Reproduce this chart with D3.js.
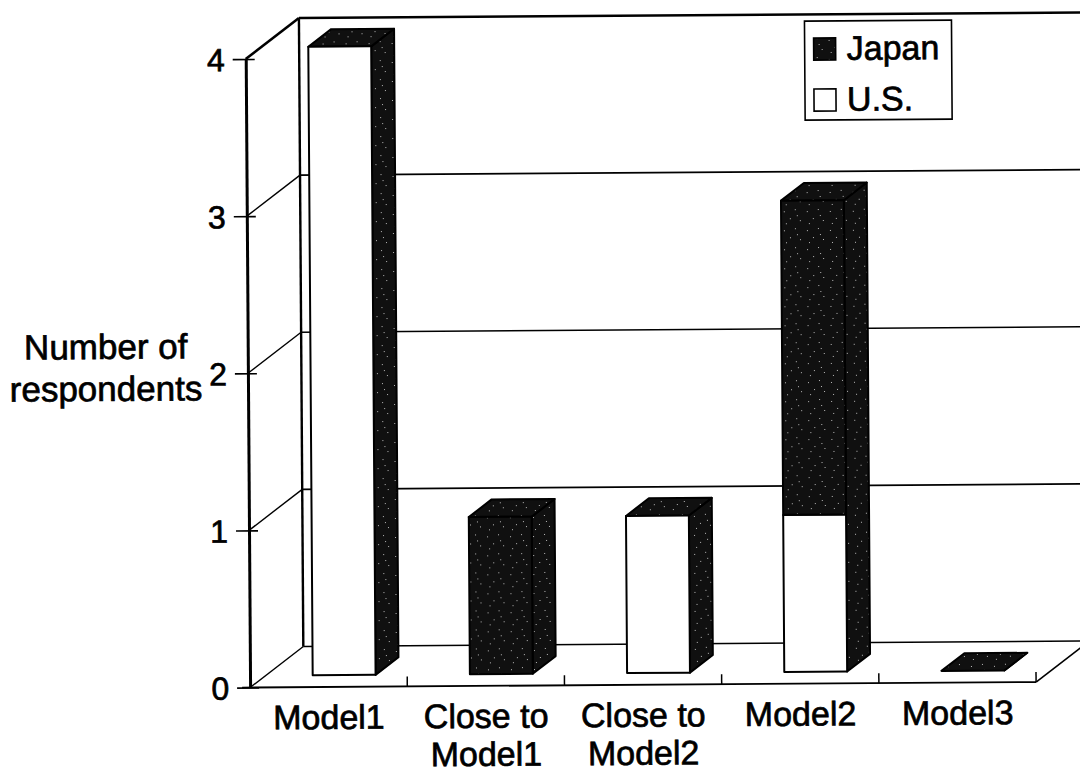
<!DOCTYPE html>
<html>
<head>
<meta charset="utf-8">
<script src="https://cdn.jsdelivr.net/npm/d3@7"></script>
<style>
  html, body { margin: 0; padding: 0; background: #fff; }
  svg { display: block; font-family: "Liberation Sans", Arial, Helvetica, sans-serif; }
  text { stroke: #000; stroke-width: 0.7px; fill: #000; }
</style>
</head>
<body>
<svg id="chart" width="1080" height="773"></svg>
<script>
// ---- data ----
const categories = ["Model1", "Close to Model1", "Close to Model2", "Model2", "Model3"];
const categoryLines = [["Model1"], ["Close to", "Model1"], ["Close to", "Model2"], ["Model2"], ["Model3"]];
const seriesNames = ["Japan", "U.S."];
const usValues = [4, 0, 1, 1, 0];
const japanValues = [0, 1, 0, 2, 0];
const yTickValues = [0, 1, 2, 3, 4];
const yAxisTitle = ["Number of", "respondents"];

// ---- layout ----
const svg = d3.select("#chart");
const DARK = "#101010";
const defs = svg.append("defs");
const pat = defs.append("pattern").attr("id", "speckle").attr("patternUnits", "userSpaceOnUse")
  .attr("width", 23).attr("height", 19);
pat.append("rect").attr("width", 23).attr("height", 19).attr("fill", DARK);
[[3, 4], [14, 2], [9, 11], [19, 13], [5, 16], [16, 8]].forEach(p =>
  pat.append("rect").attr("x", p[0]).attr("y", p[1]).attr("width", 1).attr("height", 1).attr("fill", "#bbb"));

const root = svg.append("g").attr("transform", "rotate(-0.4 540 386)");

const x = d3.scaleBand().domain(categories).range([248, 1034]).paddingInner(0).paddingOuter(0);
const y = d3.scaleLinear().domain([0, 4]).range([685.5, 57]);
const DX = 53.5, DY = -40.7;               // full depth offset of the floor / walls
const depth = f => [f * DX, f * DY];
const barFront = 0.29, barBack = 0.72;      // bar depth position (fraction of full depth)
const barInset = 0.3, barWidthFrac = 0.4;   // bar position inside band

const x0 = x.range()[0], x1 = x.range()[1];
const [bdx, bdy] = depth(1);

// ---- walls & gridlines ----
const walls = root.append("g").attr("fill", "none").attr("stroke", "#000");
yTickValues.forEach(v => {
  walls.append("line")
    .attr("x1", x0 + bdx).attr("y1", y(v) + bdy)
    .attr("x2", x1 + bdx).attr("y2", y(v) + bdy)
    .attr("stroke-width", v === 4 ? 2.6 : 1.6);
  walls.append("line")
    .attr("x1", x0).attr("y1", y(v))
    .attr("x2", x0 + bdx).attr("y2", y(v) + bdy)
    .attr("stroke-width", v === 4 ? 2.6 : 1.4);
});
walls.append("line").attr("x1", x0 + bdx).attr("y1", y(0) + bdy).attr("x2", x0 + bdx).attr("y2", y(4) + bdy)
  .attr("stroke-width", 2.4);
walls.append("line").attr("x1", x1).attr("y1", y(0)).attr("x2", x1 + bdx).attr("y2", y(0) + bdy).attr("stroke-width", 1.6);
walls.append("line").attr("x1", x1 + bdx).attr("y1", y(0) + bdy).attr("x2", x1 + bdx).attr("y2", y(4) + bdy).attr("stroke-width", 2);
walls.append("line").attr("x1", x0 - 8).attr("y1", y(0)).attr("x2", x1).attr("y2", y(0)).attr("stroke-width", 1.8);
categories.forEach(c => {
  const xb = x(c) + x.bandwidth();
  walls.append("line").attr("x1", xb).attr("y1", y(0)).attr("x2", xb).attr("y2", y(0) - 10).attr("stroke-width", 1.5);
});

// ---- bars ----
const table = categories.map((c, i) => ({ cat: c, us: usValues[i], japan: japanValues[i] }));
const stacked = d3.stack().keys(["us", "japan"])(table);
const fill = { us: "#fff", japan: "url(#speckle)" };
const bars = root.append("g");
const [fdx, fdy] = depth(barFront);
const [kdx, kdy] = depth(barBack);

table.forEach((d, i) => {
  const xl = x(d.cat) + x.bandwidth() * barInset;
  const xr = xl + x.bandwidth() * barWidthFrac;
  const total = d.us + d.japan;
  const g = bars.append("g").attr("stroke", "#000").attr("stroke-width", 2).attr("stroke-linejoin", "round");
  g.append("polygon").attr("fill", "url(#speckle)").attr("points", [
    [xr + fdx, y(total) + fdy], [xr + kdx, y(total) + kdy],
    [xr + kdx, y(0) + kdy], [xr + fdx, y(0) + fdy]].join(" "));
  g.append("polygon").attr("fill", "url(#speckle)").attr("points", [
    [xl + fdx, y(total) + fdy], [xr + fdx, y(total) + fdy],
    [xr + kdx, y(total) + kdy], [xl + kdx, y(total) + kdy]].join(" "));
  stacked.forEach(s => {
    const seg = s[i];
    if (seg[1] - seg[0] <= 0) return;
    g.append("rect")
      .attr("x", xl + fdx).attr("y", y(seg[1]) + fdy)
      .attr("width", xr - xl).attr("height", y(seg[0]) - y(seg[1]))
      .attr("fill", fill[s.key]);
  });
});

// ---- y axis ----
const yAxis = root.append("g").attr("transform", `translate(${x0},0)`)
  .call(d3.axisLeft(y).tickValues(yTickValues).tickSizeInner(13).tickSizeOuter(0).tickPadding(8).tickFormat(d3.format("d")));
yAxis.select(".domain").attr("stroke", "#000").attr("stroke-width", 3);
yAxis.selectAll(".tick line").attr("x1", 9).attr("x2", -13).attr("stroke", "#000").attr("stroke-width", 1.6);
yAxis.selectAll(".tick text").attr("font-size", 32).attr("fill", "#000").attr("dy", "0.36em")
  .attr("font-family", "'Liberation Sans', Arial, sans-serif");

// axis title
const title = root.append("text").attr("text-anchor", "middle").attr("font-size", 35);
yAxisTitle.forEach((t, k) => title.append("tspan").attr("x", 106).attr("y", 356 + k * 42).text(t));

// ---- x axis labels ----
const xAxis = root.append("g").attr("transform", `translate(0,${y(0)})`)
  .call(d3.axisBottom(x).tickSize(0).tickPadding(0));
xAxis.select(".domain").remove();
xAxis.selectAll(".tick text").each(function (d, i) {
  const t = d3.select(this).attr("y", 0).attr("dy", null).attr("font-size", 34).attr("fill", "#000")
    .attr("font-family", "'Liberation Sans', Arial, sans-serif").text(null);
  categoryLines[i].forEach((line, k) => t.append("tspan").attr("x", 0).attr("y", 42 + k * 38).text(line));
});

// ---- legend ----
const legend = root.append("g");
legend.append("rect").attr("x", 807).attr("y", 23).attr("width", 147).attr("height", 99)
  .attr("fill", "#fff").attr("stroke", "#000").attr("stroke-width", 1.6);
const legendFill = ["url(#speckle)", "#fff"];
seriesNames.forEach((name, k) => {
  const ly = 40 + k * 51;
  legend.append("rect").attr("x", 816).attr("y", ly).attr("width", 22).attr("height", 22)
    .attr("fill", legendFill[k]).attr("stroke", "#000").attr("stroke-width", 1.6);
  legend.append("text").attr("x", 849).attr("y", ly + 22).attr("font-size", 34).text(name);
});
</script>
</body>
</html>
